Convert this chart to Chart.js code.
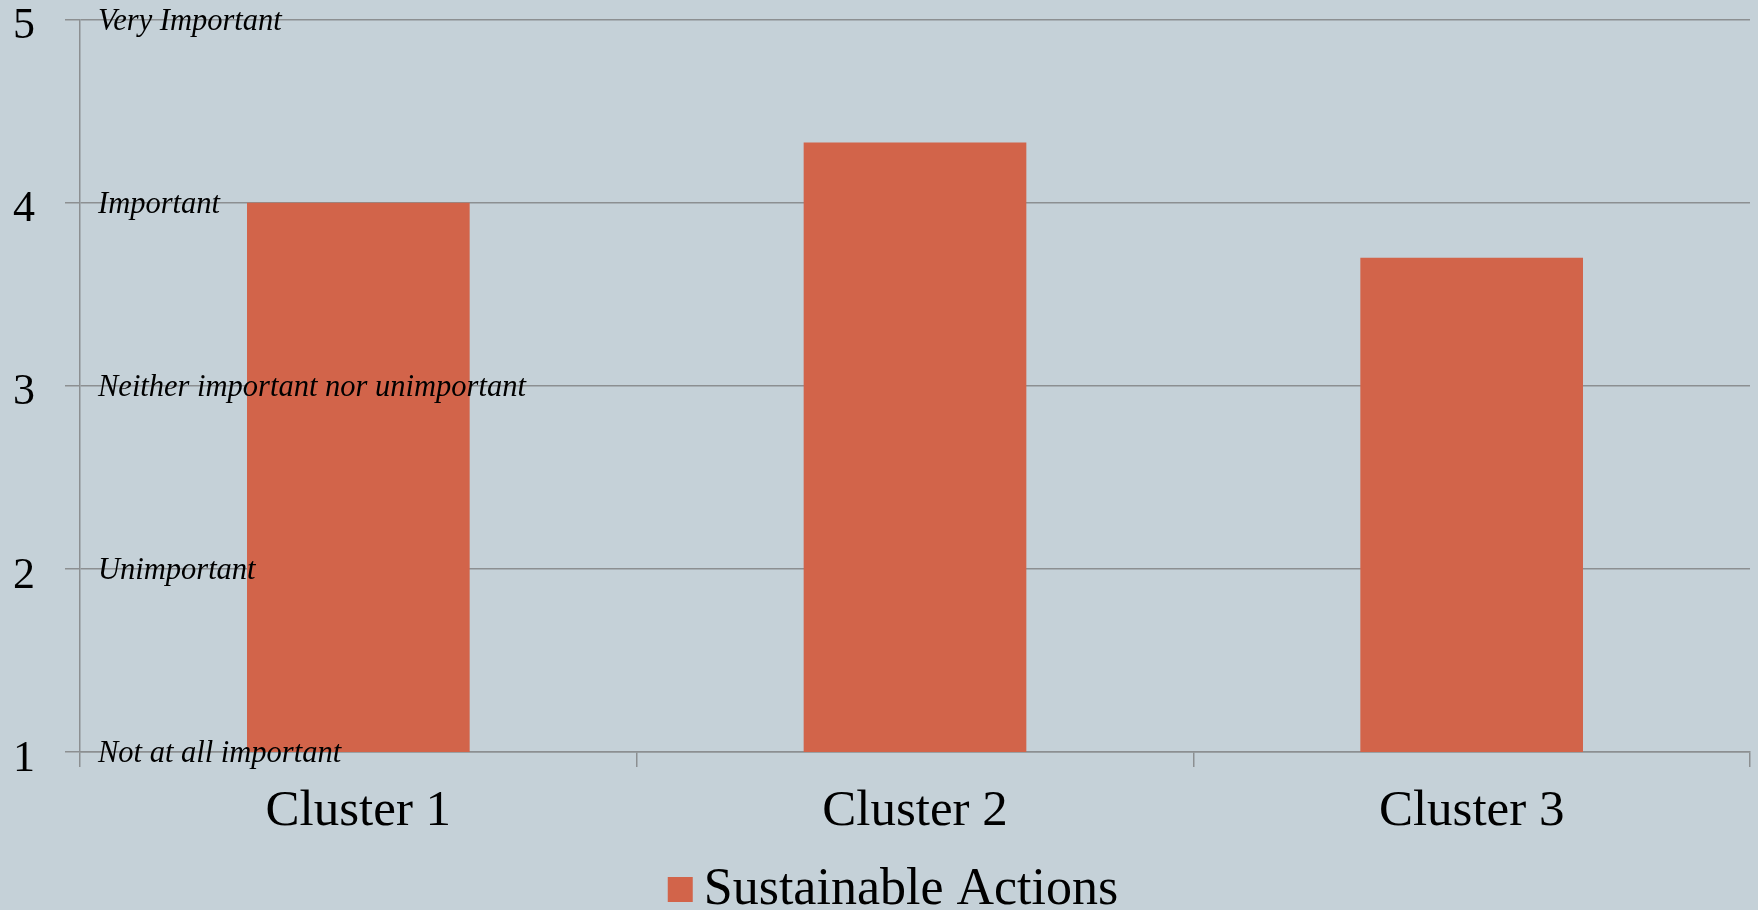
<!DOCTYPE html>
<html lang="en">
<head>
  <meta charset="UTF-8" />
  <title>Sustainable Actions by Cluster</title>
  <script src="https://cdn.jsdelivr.net/npm/chart.js"></script>
  <style>
    html, body {
      margin: 0;
      padding: 0;
      background: #c5d1d8;
    }
    #wrap {
      width: 1758px;
      height: 910px;
    }
  </style>
</head>
<body>
  <div id="wrap"><canvas id="chart"></canvas></div>

  <script>
    // data
    const clusters = ["Cluster 1", "Cluster 2", "Cluster 3"];
    const sustainableActions = [4.0, 4.33, 3.7];
    const scaleValues = [1, 2, 3, 4, 5];
    const scaleNames = [
      "Not at all important",
      "Unimportant",
      "Neither important nor unimportant",
      "Important",
      "Very Important"
    ];

    const serif = "'Liberation Serif', 'Times New Roman', serif";
    const gridColor = "#8c8f91";

    // italic scale names written just right of the y axis, on each gridline
    const scaleNamePlugin = {
      id: "scaleNames",
      afterDatasetsDraw(chart) {
        const { ctx, chartArea, scales } = chart;
        ctx.save();
        ctx.font = "italic 30.5px " + serif;
        ctx.fillStyle = "#000";
        ctx.textAlign = "left";
        ctx.textBaseline = "alphabetic";
        scaleValues.forEach((v, i) => {
          const y = scales.y.getPixelForValue(v);
          ctx.fillText(scaleNames[i], chartArea.left + 18, y + 10);
        });
        ctx.restore();
      }
    };

    // legend drawn by hand so the box/text gap and position match
    const legendPlugin = {
      id: "bottomLegend",
      afterDraw(chart) {
        const { ctx } = chart;
        const ds = chart.data.datasets[0];
        ctx.save();
        ctx.font = "52px " + serif;
        const textW = ctx.measureText(ds.label).width;
        const total = 25 + 11 + textW;
        const x = chart.width / 2 + 14 - total / 2;
        const base = chart.height - 6;
        ctx.fillStyle = ds.backgroundColor;
        ctx.fillRect(x, base - 27, 25, 25);
        ctx.fillStyle = "#000";
        ctx.textBaseline = "alphabetic";
        ctx.fillText(ds.label, x + 36, base);
        ctx.restore();
      }
    };

    new Chart(document.getElementById("chart"), {
      type: "bar",
      data: {
        labels: clusters,
        datasets: [{
          label: "Sustainable Actions",
          data: sustainableActions,
          backgroundColor: "#d2644a",
          borderWidth: 0,
          categoryPercentage: 0.4,
          barPercentage: 1.0
        }]
      },
      options: {
        responsive: true,
        maintainAspectRatio: false,
        animation: false,
        layout: {
          padding: { left: 13, right: 8, top: 0, bottom: 78 }
        },
        plugins: {
          tooltip: { enabled: false },
          legend: { display: false }
        },
        scales: {
          x: {
            offset: true,
            afterFit(scale) { scale.height = 80; },
            grid: {
              color: gridColor,
              lineWidth: 1.5,
              drawOnChartArea: false,
              tickLength: 15
            },
            border: { color: gridColor, width: 1.5 },
            ticks: {
              color: "#000",
              padding: 19,
              font: { family: serif, size: 51, lineHeight: 1.0 }
            }
          },
          y: {
            min: 1,
            max: 5,
            afterFit(scale) { scale.width = 67; },
            grid: {
              color: gridColor,
              lineWidth: 1.5,
              tickLength: 15
            },
            border: { color: gridColor, width: 1.5 },
            ticks: {
              stepSize: 1,
              color: "#000",
              padding: 0,
              crossAlign: "far",
              labelOffset: 7,
              font: { family: serif, size: 44, lineHeight: 0.9 }
            }
          }
        }
      },
      plugins: [scaleNamePlugin, legendPlugin]
    });
  </script>
</body>
</html>
